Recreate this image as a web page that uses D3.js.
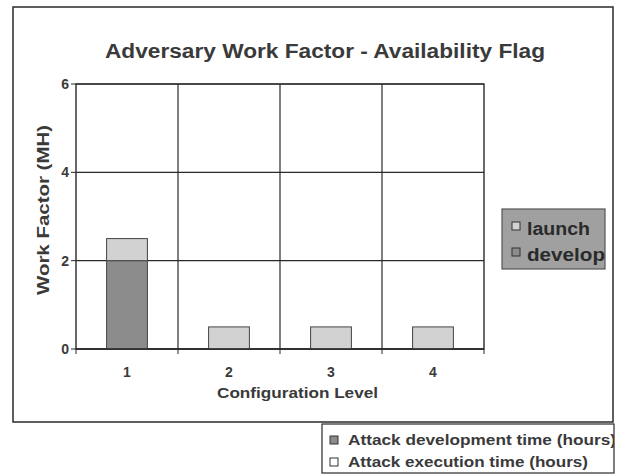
<!DOCTYPE html>
<html><head><meta charset="utf-8">
<script src="https://cdn.jsdelivr.net/npm/d3@7"></script>
<style>body{margin:0;background:#fff}svg{display:block}text{font-family:"Liberation Sans",Arial,sans-serif;font-weight:bold}</style>
</head><body><svg id="c" width="618" height="475"></svg>
<script>
const categories = ["1","2","3","4"];
const develop = [2.0, 0, 0, 0];
const launch = [0.5, 0.5, 0.5, 0.5];
const yTicks = [0, 2, 4, 6];
const title = "Adversary Work Factor - Availability Flag";
const yLabel = "Work Factor (MH)";
const xLabel = "Configuration Level";
const legendItems = ["launch", "develop"];
const bottomLegend = ["Attack development time (hours)", "Attack execution time (hours)"];

const colDev = "#8c8c8c", colLaunch = "#d2d2d2", ink = "#2a2a2a", txt = "#3a3a3a";
const svg = d3.select("#c");
// outer frame
svg.append("rect").attr("x",13).attr("y",7).attr("width",600).attr("height",415)
  .attr("fill","#fff").attr("stroke",ink).attr("stroke-width",1.5);

const L=76,R=484,T=84,B=349;
const x = d3.scaleBand().domain(categories).range([L,R]).paddingInner(0.6).paddingOuter(0.3);
const xg = d3.scaleBand().domain(categories).range([L,R]);
const y = d3.scaleLinear().domain([0,6]).range([B,T]);

svg.append("text").attr("x",105).attr("y",58)
  .attr("font-size",20).attr("fill",txt).attr("textLength",440).attr("lengthAdjust","spacingAndGlyphs").text(title);

// gridlines
const g = svg.append("g");
g.selectAll("line.h").data(yTicks).join("line").attr("x1",L).attr("x2",R)
  .attr("y1",d=>y(d)).attr("y2",d=>y(d)).attr("stroke",ink).attr("stroke-width",1.2);
g.selectAll("line.v").data(categories.slice(1)).join("line").attr("y1",T).attr("y2",B)
  .attr("x1",d=>xg(d)).attr("x2",d=>xg(d)).attr("stroke",ink).attr("stroke-width",1.2);
g.append("rect").attr("x",L).attr("y",T).attr("width",R-L).attr("height",B-T)
  .attr("fill","none").attr("stroke",ink).attr("stroke-width",1.4);

// bars
const bars = svg.append("g");
categories.forEach((c,i)=>{
  if(develop[i]>0) bars.append("rect").attr("x",x(c)).attr("width",x.bandwidth())
    .attr("y",y(develop[i])).attr("height",y(0)-y(develop[i]))
    .attr("fill",colDev).attr("stroke","#444").attr("stroke-width",1);
  bars.append("rect").attr("x",x(c)).attr("width",x.bandwidth())
    .attr("y",y(develop[i]+launch[i])).attr("height",y(develop[i])-y(develop[i]+launch[i]))
    .attr("fill",colLaunch).attr("stroke","#444").attr("stroke-width",1);
});
svg.append("line").attr("x1",L).attr("x2",R).attr("y1",B).attr("y2",B).attr("stroke",ink).attr("stroke-width",1.4);
svg.selectAll("line.xt").data(categories.concat(["end"])).join("line")
  .attr("x1",(d,i)=>L+i*xg.bandwidth()).attr("x2",(d,i)=>L+i*xg.bandwidth())
  .attr("y1",B).attr("y2",B+5).attr("stroke",ink);
svg.selectAll("line.yt").data(yTicks).join("line").attr("x1",L-5).attr("x2",L)
  .attr("y1",d=>y(d)).attr("y2",d=>y(d)).attr("stroke",ink);

// tick labels
svg.selectAll("text.yl").data(yTicks).join("text").attr("x",L-7).attr("y",d=>y(d)+5)
  .attr("text-anchor","end").attr("font-size",14).attr("fill",txt).text(d=>d);
svg.selectAll("text.xl").data(categories).join("text").attr("x",d=>xg(d)+xg.bandwidth()/2)
  .attr("y",377).attr("text-anchor","middle").attr("font-size",14).attr("fill",txt).text(d=>d);
svg.append("text").attr("x",217).attr("y",398)
  .attr("font-size",14).attr("fill",txt).attr("textLength",161).attr("lengthAdjust","spacingAndGlyphs").text(xLabel);
svg.append("text").attr("transform","translate(49,295) rotate(-90)")
  .attr("font-size",17).attr("fill",txt).attr("textLength",170).attr("lengthAdjust","spacingAndGlyphs").text(yLabel);

// right legend
const lg = svg.append("g");
lg.append("clipPath").attr("id","lc").append("rect").attr("x",502).attr("y",209).attr("width",103).attr("height",60);
lg.append("rect").attr("x",502).attr("y",209).attr("width",103).attr("height",60)
  .attr("fill","#a0a0a0").attr("stroke","#555").attr("stroke-width",1.2);
const lgi = lg.append("g").attr("clip-path","url(#lc)");
const lgLen = [63, 78];
legendItems.forEach((t,i)=>{
  const yy = 222 + i*26;
  lgi.append("rect").attr("x",512).attr("y",yy).attr("width",8).attr("height",8)
    .attr("fill", i===0?colLaunch:colDev).attr("stroke","#333");
  lgi.append("text").attr("x",527).attr("y",yy+13).attr("font-size",18).attr("fill","#2a2a2a")
    .attr("textLength",lgLen[i]).attr("lengthAdjust","spacingAndGlyphs").text(t);
});

// bottom legend
const bl = svg.append("g");
bl.append("clipPath").attr("id","bc").append("rect").attr("x",322).attr("y",424).attr("width",292).attr("height",50);
bl.append("rect").attr("x",322).attr("y",424).attr("width",292).attr("height",49)
  .attr("fill","#fff").attr("stroke",ink).attr("stroke-width",1.2);
const bli = bl.append("g").attr("clip-path","url(#bc)");
const blLen = [268, 240];
bottomLegend.forEach((t,i)=>{
  const yy = 436 + i*22;
  bli.append("rect").attr("x",330).attr("y",yy).attr("width",8).attr("height",8)
    .attr("fill", i===0?colDev:"#fff").attr("stroke","#333");
  bli.append("text").attr("x",348).attr("y",yy+9).attr("font-size",15).attr("fill",txt)
    .attr("textLength",blLen[i]).attr("lengthAdjust","spacingAndGlyphs").text(t);
});
</script></body></html>
